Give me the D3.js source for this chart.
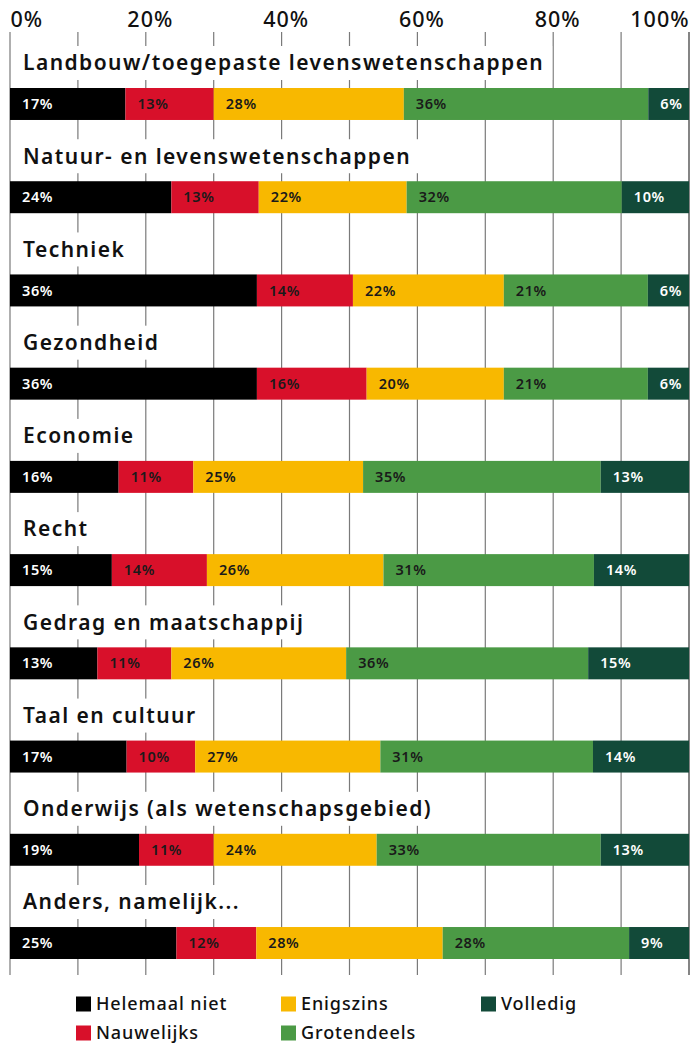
<!DOCTYPE html>
<html>
<head>
<meta charset="utf-8">
<script src="https://cdn.jsdelivr.net/npm/d3@7"></script>
<style>
  body { margin: 0; background: #fff; }
  svg { display: block; font-family: "Noto Sans", sans-serif; }
</style>
</head>
<body>
<div id="chart"></div>
<script>
// categories (top to bottom)
const categories = [
  "Landbouw/toegepaste levenswetenschappen",
  "Natuur- en levenswetenschappen",
  "Techniek",
  "Gezondheid",
  "Economie",
  "Recht",
  "Gedrag en maatschappij",
  "Taal en cultuur",
  "Onderwijs (als wetenschapsgebied)",
  "Anders, namelijk..."
];

const seriesNames = ["Helemaal niet", "Nauwelijks", "Enigszins", "Grotendeels", "Volledig"];

// percentages per series, same order as categories
const helemaalNiet = [17, 24, 36, 36, 16, 15, 13, 17, 19, 25];
const nauwelijks   = [13, 13, 14, 16, 11, 14, 11, 10, 11, 12];
const enigszins    = [28, 22, 22, 20, 25, 26, 26, 27, 24, 28];
const grotendeels  = [36, 32, 21, 21, 35, 31, 36, 31, 33, 28];
const volledig     = [6, 10, 6, 6, 13, 14, 15, 14, 13, 9];

const tickValues = [0, 0.2, 0.4, 0.6, 0.8, 1];
const gridValues = [0, 0.1, 0.2, 0.3, 0.4, 0.5, 0.6, 0.7, 0.8, 0.9, 1];

const colors = ["#000000", "#d8102a", "#f8b800", "#4b9a45", "#124a39"];
const textColors = ["#ffffff", "#1a1a1a", "#1a1a1a", "#1a1a1a", "#ffffff"];

const allSeries = [helemaalNiet, nauwelijks, enigszins, grotendeels, volledig];
const data = categories.map((c, i) => {
  const row = { cat: c };
  seriesNames.forEach((s, j) => { row[s] = allSeries[j][i]; });
  return row;
});

const width = 694, height = 1043;

const svg = d3.select("#chart").append("svg")
  .attr("width", width)
  .attr("height", height);

const x = d3.scaleLinear().domain([0, 1]).range([10, 689]);
const y = d3.scaleBand().domain(categories).range([88, 959]).paddingInner(0.657).paddingOuter(0);

// grid lines
svg.append("g")
  .selectAll("line")
  .data(gridValues)
  .join("line")
  .attr("x1", d => x(d)).attr("x2", d => x(d))
  .attr("y1", 32).attr("y2", 975)
  .attr("stroke", d => d === 1 ? "#333" : "#7a7a7a")
  .attr("stroke-width", 1.2);

// top axis labels
const axis = svg.append("g")
  .attr("transform", "translate(0,27)")
  .call(d3.axisTop(x).tickValues(tickValues).tickFormat(d3.format(".0%")).tickSize(0).tickPadding(0));
axis.select(".domain").remove();
axis.selectAll("text")
  .attr("y", 0)
  .attr("dy", 0)
  .attr("font-family", "'Noto Sans', sans-serif")
  .attr("font-size", 21.5)
  .attr("font-weight", 500)
  .attr("letter-spacing", 1)
  .attr("fill", "#111")
  .attr("text-anchor", d => d === 0 ? "start" : (d === 1 ? "end" : "middle"))
  .attr("dx", d => d === 0 || d === 1 ? 0 : 4);

// category labels with white backing
const labels = svg.append("g")
  .selectAll("g")
  .data(categories)
  .join("g")
  .attr("transform", d => `translate(23,${y(d) - 25})`);

labels.append("rect").attr("fill", "#fff");
labels.append("text")
  .attr("dy", "0.35em")
  .attr("font-size", 21)
  .attr("font-weight", 600)
  .attr("letter-spacing", 1.45)
  .attr("fill", "#111")
  .text(d => d);
labels.each(function() {
  const t = d3.select(this).select("text").node().getComputedTextLength();
  d3.select(this).select("rect")
    .attr("x", -11).attr("y", -17)
    .attr("width", t + 19).attr("height", 34);
});

// stacked bars
const stack = d3.stack().keys(seriesNames).offset(d3.stackOffsetExpand);
const stacked = stack(data);

const layers = svg.append("g")
  .selectAll("g")
  .data(stacked)
  .join("g")
  .attr("fill", (d, i) => colors[i]);

layers.selectAll("rect")
  .data(d => d)
  .join("rect")
  .attr("x", d => x(d[0]))
  .attr("width", d => x(d[1]) - x(d[0]))
  .attr("y", d => y(d.data.cat))
  .attr("height", y.bandwidth());

layers.each(function(layer, i) {
  d3.select(this).selectAll("text")
    .data(layer)
    .join("text")
    .attr("x", d => x(d[0]) + 12)
    .attr("y", d => y(d.data.cat) + y.bandwidth() / 2)
    .attr("dy", "0.35em")
    .attr("font-size", 14.5)
    .attr("font-weight", 600)
    .attr("letter-spacing", 0.6)
    .attr("fill", textColors[i])
    .text(d => d.data[layer.key] + "%");
});

// legend
const legendPos = [[76, 1004], [76, 1033], [281, 1004], [281, 1033], [481, 1004]];
const legend = svg.append("g")
  .selectAll("g")
  .data(seriesNames)
  .join("g")
  .attr("transform", (d, i) => `translate(${legendPos[i][0]},${legendPos[i][1]})`);
legend.append("rect")
  .attr("x", 0).attr("y", -7.5)
  .attr("width", 15).attr("height", 15)
  .attr("fill", (d, i) => colors[i]);
legend.append("text")
  .attr("x", 20)
  .attr("dy", "0.35em")
  .attr("font-size", 18)
  .attr("font-weight", 500)
  .attr("letter-spacing", 0.9)
  .attr("fill", "#111")
  .text(d => d);
</script>
</body>
</html>
